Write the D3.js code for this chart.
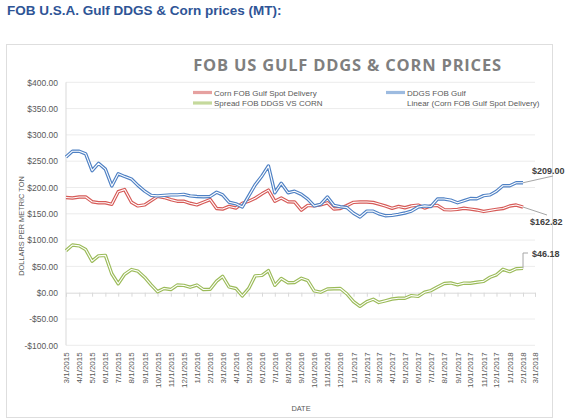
<!DOCTYPE html>
<html><head><meta charset="utf-8">
<script src="https://cdn.jsdelivr.net/npm/d3@7/dist/d3.min.js"></script>
<style>
html,body{margin:0;padding:0;background:#fff;}
svg{display:block;font-family:"Liberation Sans",Arial,sans-serif;}
</style></head><body>
<svg id="c" width="567" height="420"></svg>
<script>
const dates = ["2015-03-01","2015-03-16","2015-04-01","2015-04-16","2015-05-01","2015-05-16","2015-06-01","2015-06-16","2015-07-01","2015-07-16","2015-08-01","2015-08-16","2015-09-01","2015-09-16","2015-10-01","2015-10-16","2015-11-01","2015-11-16","2015-12-01","2015-12-16",
"2016-01-01","2016-01-16","2016-02-01","2016-02-16","2016-03-01","2016-03-16","2016-04-01","2016-04-16","2016-05-01","2016-05-16","2016-06-01","2016-06-16","2016-07-01","2016-07-16","2016-08-01","2016-08-16","2016-09-01","2016-09-16","2016-10-01","2016-10-16","2016-11-01","2016-11-16","2016-12-01","2016-12-16",
"2017-01-01","2017-01-16","2017-02-01","2017-02-16","2017-03-01","2017-03-16","2017-04-01","2017-04-16","2017-05-01","2017-05-16","2017-06-01","2017-06-16","2017-07-01","2017-07-16","2017-08-01","2017-08-16","2017-09-01","2017-09-16","2017-10-01","2017-10-16","2017-11-01","2017-11-16","2017-12-01","2017-12-16",
"2018-01-01","2018-01-16","2018-02-01"];

const cornFOB = [181,180,182,182,173,171,171,168,192,196,172,165,167,175,183,181,177,174,174,170,
167,172,177,160,159,164,161,170,174,179.5,188,195,174,180,173,172.5,157,166,165,167,171,159,160,165.5,
171.8,172.5,172.5,171.5,168.5,165,160.5,164,161.5,165,166.5,161,165,166,158,157.5,158.5,160.5,159,157.3,154.5,156.5,158.5,160,
164.8,166.7,162.82];

const ddgsFOB = [258,269,269,264,232,246,235,203,226,221,216,204,193,185,184,185,186,186,187,184,
183,182.5,183,191,186,172,169,163,184,205,222,241,190,208,190,193,187,178,165,168,182,166,163.5,162,
151,144,155,155,150,146.4,147,149,151.5,155,163,165,164,178,178,176,171,175,179,178.5,184.5,186,193,203.4,
203.4,209,209];

const spread = [80,90.7,89,82,60,70,71,36,17,35,44,41,29,15,2,8,6,14.6,14,10.5,
14.5,6,6.5,22,31,11,8,-6,8,32,33,42,14,27,19,19.5,27.4,23,3.5,1,7,7.5,8,-2,
-17,-26,-17,-12.5,-18.5,-15.5,-12,-10.6,-10.6,-5.5,-7,1,4,11,17.5,18.5,15,18.2,18,19.8,21.5,29.3,34,44.5,
40,45.5,46.18];

const seriesNames = ["Corn FOB Gulf Spot Delivery","DDGS FOB Gulf","Spread FOB DDGS VS CORN","Linear (Corn FOB Gulf Spot Delivery)"];
const yTicks = [-100,-50,0,50,100,150,200,250,300,350,400];
const xTickStart = "2015-03-01", xTickEnd = "2018-03-01";
const endLabels = ["$209.00","$162.82","$46.18"];

const parse = d3.timeParse("%Y-%m-%d");
const D = dates.map(parse);
const svg = d3.select("#c");

// header
svg.append("text").attr("x",7).attr("y",15).attr("font-size",13.5).attr("font-weight","bold")
  .attr("fill","#2e5496").text("FOB U.S.A. Gulf DDGS & Corn prices (MT):");

// chart border
svg.append("rect").attr("x",6.5).attr("y",44.5).attr("width",546).attr("height",373)
  .attr("fill","none").attr("stroke","#dedede");

// title
svg.append("text").attr("x",347.5).attr("y",71).attr("text-anchor","middle")
  .attr("font-family","'Open Sans',sans-serif").attr("font-weight","bold").attr("font-size",16.5)
  .attr("letter-spacing",0.8).attr("fill","#7f7f7f").text("FOB US GULF DDGS & CORN PRICES");

const x = d3.scaleTime().domain([parse(xTickStart), parse(xTickEnd)]).range([66, 535]);
const y = d3.scaleLinear().domain([-100,400]).range([345.3, 82.3]);

// gridlines
svg.append("g").selectAll("line").data(yTicks.filter(v=>v!==0)).join("line")
  .attr("x1",66).attr("x2",535).attr("y1",d=>y(d)).attr("y2",d=>y(d))
  .attr("stroke","#ececec").attr("stroke-width",1);

// y axis line
svg.append("line").attr("x1",66).attr("x2",66).attr("y1",y(400)).attr("y2",y(-100)).attr("stroke","#d9d9d9");

// y labels
const yAxis = d3.axisLeft(y).tickValues(yTicks).tickSize(0).tickPadding(8)
  .tickFormat(d => (d<0?"-":"") + "$" + d3.format(".2f")(Math.abs(d)));
const gy = svg.append("g").attr("transform","translate(66,0)").call(yAxis);
gy.select(".domain").remove();
gy.selectAll("text").attr("font-size",8.5).attr("fill","#595959").attr("font-family","'Liberation Sans',Arial,sans-serif");

// x axis at zero
const months = d3.timeMonth.range(parse(xTickStart), d3.timeDay.offset(parse(xTickEnd),1));
const xAxis = d3.axisBottom(x).tickValues(months).tickSize(4).tickFormat("");
const gx = svg.append("g").attr("transform",`translate(0,${y(0)})`).call(xAxis);
gx.select(".domain").attr("stroke","#d9d9d9");
gx.selectAll(".tick line").attr("stroke","#d9d9d9");

// x labels at bottom
const fmt = d3.timeFormat("%-m/%-d/%Y");
svg.append("g").selectAll("text").data(months).join("text")
  .attr("transform",d=>`translate(${x(d)+3},${y(-100)+7}) rotate(-90)`)
  .attr("text-anchor","end").attr("font-size",8).attr("fill","#595959").text(d=>fmt(d));

// axis titles
svg.append("text").attr("transform","translate(24,226) rotate(-90)").attr("text-anchor","middle")
  .attr("font-size",7.4).attr("fill","#595959").text("DOLLARS PER METRIC TON");
svg.append("text").attr("x",301).attr("y",411).attr("text-anchor","middle")
  .attr("font-size",7.4).attr("fill","#595959").text("DATE");

// lines
const colors = ["#d65a57","#4f81c4","#9bbb59"];
const data = [cornFOB, ddgsFOB, spread];
const line = d3.line().x((d,i)=>x(D[i])).y(d=>y(d));
[2,0,1].forEach(k=>{
  const g = svg.append("g");
  g.append("path").attr("d",line(data[k])).attr("fill","none").attr("stroke",colors[k])
    .attr("stroke-width",3.4).attr("stroke-linejoin","round");
  g.append("path").attr("d",line(data[k])).attr("fill","none").attr("stroke","#fff")
    .attr("stroke-width",1.1).attr("stroke-linejoin","round");
});

// legend
const legColors = ["#e6a1a0","#9dbbe0","#c5d99c",null];
const legPos = [[193,92.5],[386,92.5],[193,103],[386,103]];
seriesNames.forEach((n,i)=>{
  const [lx,ly] = legPos[i];
  if (legColors[i]) svg.append("rect").attr("x",lx).attr("y",ly-1.6).attr("width",19).attr("height",3.2).attr("fill",legColors[i]);
  svg.append("text").attr("x",lx+21).attr("y",ly+3).attr("font-size",8).attr("fill","#595959").text(n);
});

// end labels
const last = D.length-1;
const px = x(D[last]);
const gL = svg.append("g").attr("stroke","#a6a6a6").attr("fill","none");
gL.append("line").attr("x1",px).attr("y1",y(ddgsFOB[last])).attr("x2",553).attr("y2",176);
gL.append("line").attr("x1",px).attr("y1",y(cornFOB[last])).attr("x2",547).attr("y2",215);
gL.append("polyline").attr("points",`${px},${y(spread[last])} ${px},253 ${px+5},253`);
const lab = [[532,173.5],[530,225],[532,257]];
endLabels.forEach((t,i)=>{
  svg.append("text").attr("x",lab[i][0]).attr("y",lab[i][1]).attr("font-size",9).attr("font-weight","bold")
    .attr("fill","#404040").text(t);
});
</script></body></html>
